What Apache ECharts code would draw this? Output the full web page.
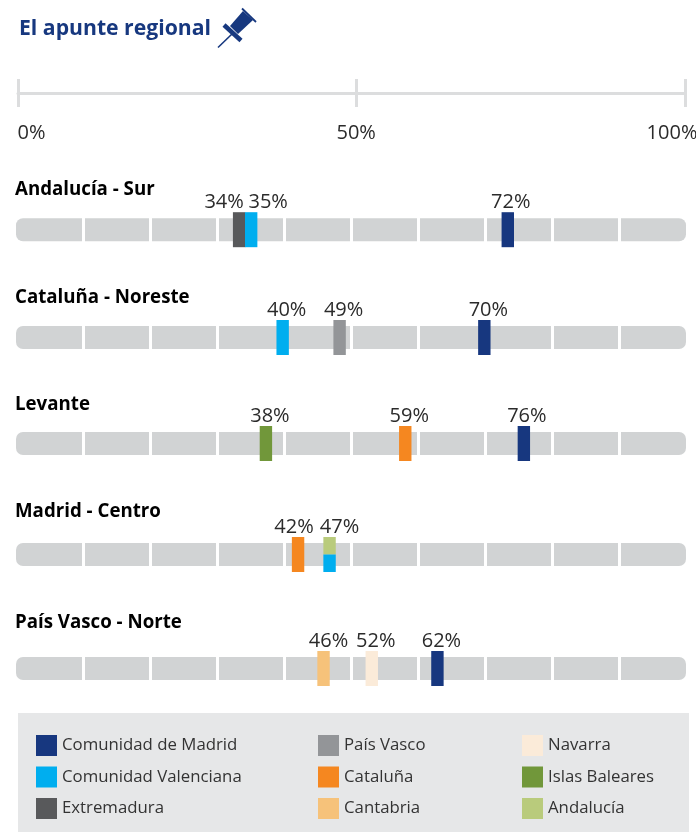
<!DOCTYPE html>
<html><head><meta charset="utf-8">
<style>html,body{margin:0;padding:0;background:#fff}#c{width:696px;height:832px}</style>
<script src="https://cdn.jsdelivr.net/npm/echarts@6/dist/echarts.min.js"></script>
</head><body><div id="c"></div>
<script>
// ---- data ----
const regions = ['Andalucía - Sur','Cataluña - Noreste','Levante','Madrid - Centro','País Vasco - Norte'];
const communities = ['Comunidad de Madrid','Comunidad Valenciana','Extremadura','País Vasco','Cataluña','Cantabria','Navarra','Islas Baleares','Andalucía'];
const markerRegion    = [0,0,0, 1,1,1, 2,2,2, 3,3,3, 4,4,4];
const markerCommunity = ['Extremadura','Comunidad Valenciana','Comunidad de Madrid',
  'Comunidad Valenciana','País Vasco','Comunidad de Madrid',
  'Islas Baleares','Cataluña','Comunidad de Madrid',
  'Cataluña','Andalucía','Comunidad Valenciana',
  'Cantabria','Navarra','Comunidad de Madrid'];
const markerLabels    = ['34%','35%','72%','40%','49%','70%','38%','59%','76%','42%','47%','','46%','52%','62%'];
// where each marker actually sits on the printed scale
const markerPositions = [33.3,35.1,73.4, 39.8,48.3,69.9, 37.3,58.1,75.8, 42.1,46.8,46.8, 45.9,53.1,62.9];
const scaleTicks  = [0,50.7,100];
const scaleLabels = ['0%','50%','100%'];
const trackValues = [100,100,100,100,100];

// ---- styles and layout ----
const colors = {'Comunidad de Madrid':'#17377f','Comunidad Valenciana':'#00aeef','Extremadura':'#58595b','País Vasco':'#939598','Cataluña':'#f58720','Cantabria':'#f6c27a','Navarra':'#fbebd9','Islas Baleares':'#71973a','Andalucía':'#b9cb7c'};
const FONT = '"Open Sans", sans-serif';
const rowCenters = [229.7,337.5,443.5,554.5,668.5];
const rowTitleY  = [188,296,403,510,621];
const markerParts = {10:'top',11:'bottom'};
const labelNudge  = [-15,17,3, 4,4,4, 4,4,3, -4,10,0, 5,4,4];
const MW = 12.4, MH = 35;

function markerRender(i){
  return function(params, api){
    const c = api.coord([api.value(0),0]);
    const part = markerParts[i]||'full';
    const y0 = c[1]-MH/2;
    const y = part==='bottom' ? c[1] : y0;
    const h = part==='full' ? MH : MH/2;
    const kids = [{type:'rect',shape:{x:c[0]-MW/2,y:y,width:MW,height:h},style:{fill:api.visual('color')}}];
    if(markerLabels[i]){ kids.push({type:'text',style:{text:markerLabels[i],x:c[0]+labelNudge[i],y:y0-10,align:'center',verticalAlign:'middle',fill:'#2b2b2b',font:'20px '+FONT}}); }
    return {type:'group',children:kids};
  };
}

const grid=[{left:18,width:667,top:79,height:14,outerBoundsMode:'none'}], xAxis=[{
  gridIndex:0,type:'value',min:0,max:100,position:'bottom',
  axisLine:{show:true,onZero:false,lineStyle:{color:'#dcddde',width:3}},
  axisTick:{show:true,length:14,customValues:scaleTicks,lineStyle:{color:'#dcddde',width:3}},
  splitLine:{show:true,lineStyle:{color:'#dcddde',width:3}},
  axisLabel:{show:true,customValues:scaleTicks,margin:30,color:'#2b2b2b',fontFamily:FONT,fontSize:20,
    formatter:function(v){const i=scaleTicks.indexOf(v);const s=scaleLabels[i];return i===0?'{l|'+s+'}':i===2?'{r|'+s+'}':s;},
    rich:{l:{fontFamily:FONT,fontSize:20,color:'#2b2b2b',padding:[0,0,0,27]},r:{fontFamily:FONT,fontSize:20,color:'#2b2b2b',padding:[0,26,0,0]}}}
}], yAxis=[{gridIndex:0,type:'value',show:false}];
const series=[], titles=[{text:'El apunte regional',left:19,top:18,padding:0,textStyle:{color:'#17387f',fontFamily:FONT,fontWeight:'bold',fontSize:21.2}}];

regions.forEach(function(name,r){
  const g=r+1;
  grid.push({left:16,width:670,top:rowCenters[r]-MH/2,height:MH,outerBoundsMode:'none'});
  xAxis.push({gridIndex:g,type:'value',min:0,max:100,interval:10,z:3,axisLine:{show:false},axisTick:{show:false},axisLabel:{show:false},
    splitLine:{show:true,showMinLine:false,showMaxLine:false,lineStyle:{color:'#ffffff',width:3}}});
  yAxis.push({gridIndex:g,type:'category',data:[name],show:false});
  series.push({type:'bar',xAxisIndex:g,yAxisIndex:g,data:[trackValues[r]],barWidth:23,silent:true,z:1,
    itemStyle:{color:'#d1d3d4',borderRadius:7}});
  titles.push({text:name,left:15,top:rowTitleY[r]-8,padding:0,textStyle:{color:'#000',fontFamily:FONT,fontWeight:'bold',fontSize:18.7}});
  markerRegion.forEach(function(mr,i){
    if(mr!==r) return;
    series.push({type:'custom',name:markerCommunity[i],xAxisIndex:g,yAxisIndex:g,z:5,
      itemStyle:{color:colors[markerCommunity[i]]},
      renderItem:markerRender(i),encode:{x:0},
      data:[[markerPositions[i],0]]});
  });
});

function legendCol(left,names){return {left:left,top:735,orient:'vertical',itemWidth:21,itemHeight:21,itemGap:10.5,padding:0,icon:'rect',
  selectedMode:false,textStyle:{color:'#333',fontFamily:FONT,fontSize:16.8},data:names};}

const NAVY='#17387f';
const chart=echarts.init(document.getElementById('c'),null,{renderer:'canvas'});
chart.setOption({
  animation:false,backgroundColor:'#fff',title:titles,grid:grid,xAxis:xAxis,yAxis:yAxis,series:series,
  legend:[legendCol(36,communities.slice(0,3)),legendCol(318,communities.slice(3,6)),legendCol(522,communities.slice(6,9))],
  graphic:[
    {type:'rect',z:-1,silent:true,shape:{x:18,y:713,width:671,height:119},style:{fill:'#e6e7e8'}},
    {type:'line',shape:{x1:218,y1:47.5,x2:232,y2:34},style:{stroke:NAVY,lineWidth:1.6}},
    {type:'line',shape:{x1:224,y1:25,x2:241,y2:40.5},style:{stroke:NAVY,lineWidth:4.5}},
    {type:'polygon',shape:{points:[[230,26],[243,11],[253,20],[238,34]]},style:{fill:NAVY}},
    {type:'line',shape:{x1:242,y1:8.5,x2:256,y2:22},style:{stroke:NAVY,lineWidth:1.8}}
  ]
});
</script></body></html>
